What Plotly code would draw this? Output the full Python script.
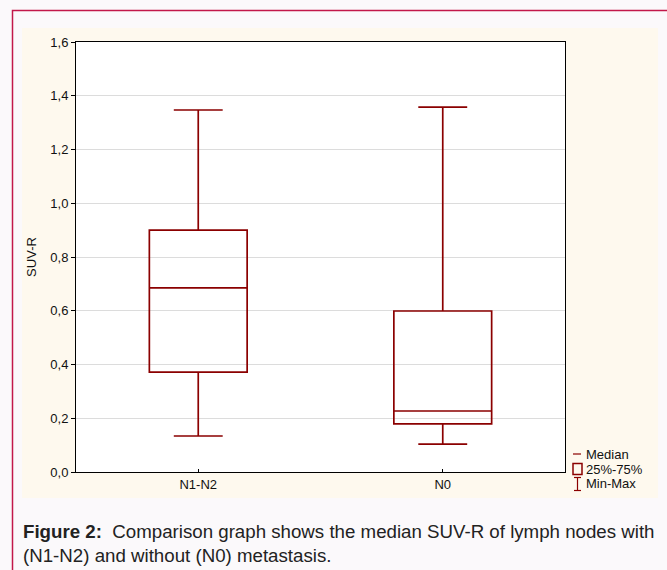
import plotly.graph_objects as go

# ---- data ----
categories = ["N1-N2", "N0"]
q1_vals = [0.372, 0.179]
median_vals = [0.685, 0.227]
q3_vals = [0.900, 0.599]
min_vals = [0.134, 0.104]
max_vals = [1.347, 1.358]
y_ticks = [0.0, 0.2, 0.4, 0.6, 0.8, 1.0, 1.2, 1.4, 1.6]
legend_labels = ["Median", "25%-75%", "Min-Max"]
caption_bold = "Figure 2:"
caption_text = "Comparison graph shows the median SUV-R of lymph nodes with<br>(N1-N2) and without (N0) metastasis."

W, H = 667, 570
L, R, T, B = 76, 565, 42, 472  # plot area in pixels
BOX_COLOR = "#8b0000"


def px(x):
    return (x - L) / (R - L)


def py(y):
    return (B - y) / (B - T)


fig = go.Figure()
fig.add_trace(go.Box(
    x=categories,
    q1=q1_vals, median=median_vals, q3=q3_vals,
    lowerfence=min_vals, upperfence=max_vals,
    width=0.4, whiskerwidth=0.5,
    line=dict(color=BOX_COLOR, width=1.7),
    fillcolor="rgba(255,255,255,0)",
    boxpoints=False, showlegend=False, hoverinfo="skip",
))

leg_y = [454, 469, 484]

shapes = [
    # cream panel
    dict(type="rect", xref="paper", yref="paper", x0=px(22), x1=px(658), y0=py(498), y1=py(28),
         fillcolor="#fef9ee", line=dict(width=0), layer="below"),
    # white plot area
    dict(type="rect", xref="paper", yref="paper", x0=0, x1=1, y0=0, y1=1,
         fillcolor="white", line=dict(width=0), layer="below"),
    # crimson frame (top & left)
    dict(type="path", xref="paper", yref="paper",
         path=f"M {px(12.5)} {py(580)} L {px(12.5)} {py(10.5)} L {px(680)} {py(10.5)}",
         line=dict(color="#c2184a", width=1.5), layer="above"),
    # legend symbols
    dict(type="line", xref="paper", yref="paper", x0=px(573), x1=px(581), y0=py(leg_y[0]), y1=py(leg_y[0]),
         line=dict(color=BOX_COLOR, width=1.2), layer="above"),
    dict(type="rect", xref="paper", yref="paper", x0=px(573), x1=px(582),
         y0=py(leg_y[1] + 5.5), y1=py(leg_y[1] - 5.5),
         line=dict(color=BOX_COLOR, width=1.5), fillcolor="rgba(0,0,0,0)", layer="above"),
    dict(type="line", xref="paper", yref="paper", x0=px(577.5), x1=px(577.5),
         y0=py(leg_y[2] + 6.5), y1=py(leg_y[2] - 6.5),
         line=dict(color=BOX_COLOR, width=1.2), layer="above"),
    dict(type="line", xref="paper", yref="paper", x0=px(574), x1=px(581),
         y0=py(leg_y[2] - 6.5), y1=py(leg_y[2] - 6.5),
         line=dict(color=BOX_COLOR, width=1.2), layer="above"),
    dict(type="line", xref="paper", yref="paper", x0=px(574), x1=px(581),
         y0=py(leg_y[2] + 6.5), y1=py(leg_y[2] + 6.5),
         line=dict(color=BOX_COLOR, width=1.2), layer="above"),
]

annotations = []
for lbl, yy in zip(legend_labels, leg_y):
    annotations.append(dict(xref="paper", yref="paper", x=px(585), y=py(yy), text=lbl,
                            showarrow=False, xanchor="left", yanchor="middle",
                            borderpad=0,
                            font=dict(family="Liberation Sans, Arial", size=13, color="#111")))
annotations.append(dict(
    xref="paper", yref="paper", x=px(21), y=py(519), xanchor="left", yanchor="top", align="left",
    text=f"<b>{caption_bold}</b>&nbsp; {caption_text}", showarrow=False,
    font=dict(family="Liberation Sans, Arial", size=18.7, color="#222"),
))

fig.update_layout(
    width=W, height=H,
    margin=dict(l=L, r=W - R, t=T, b=H - B, autoexpand=False),
    paper_bgcolor="#fbf9fb", plot_bgcolor="white",
    separators=",.",
    font=dict(family="Liberation Sans, Arial", size=13, color="#111"),
    shapes=shapes, annotations=annotations,
    xaxis=dict(range=[-0.5, 1.5], showline=True, mirror=True, linecolor="black", linewidth=1,
               ticks="inside", ticklen=3, tickcolor="black", showgrid=False,
               tickfont=dict(size=13)),
    yaxis=dict(range=[0, 1.6], tickvals=y_ticks, tickformat=".1f",
               showline=True, mirror=True, linecolor="black", linewidth=1,
               ticks="outside", ticklen=4, tickcolor="black",
               showgrid=True, gridcolor="#dcdcdc", gridwidth=1, zeroline=False,
               title=dict(text="SUV-R", standoff=10, font=dict(size=13)),
               tickfont=dict(size=13)),
)

fig.write_html("out.html", config={"displayModeBar": False},
               post_script="document.body.style.margin='0';document.body.style.overflow='hidden';")
